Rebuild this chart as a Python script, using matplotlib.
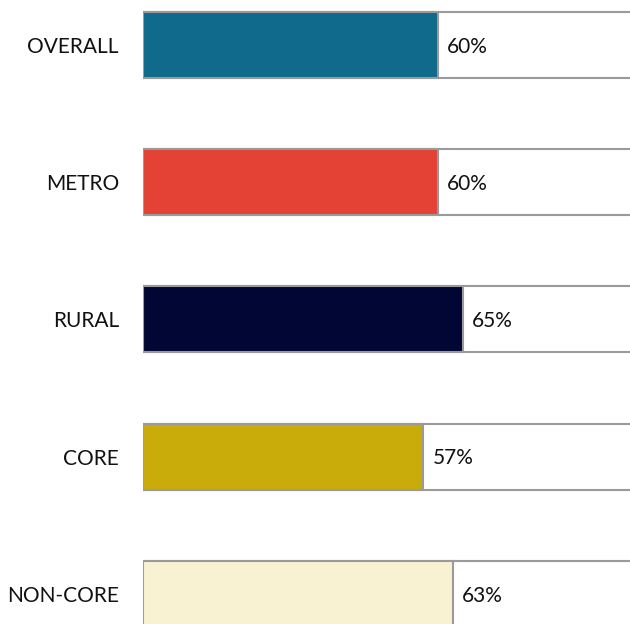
import matplotlib.pyplot as plt

categories = ['OVERALL', 'METRO', 'RURAL', 'CORE', 'NON-CORE']
values = [60, 60, 65, 57, 63]
colors = ['#0f6a8b', '#e34234', '#020635', '#c9ab0a', '#f8f2d2']

plt.rcParams['font.family'] = ['Lato', 'DejaVu Sans']

fig = plt.figure(figsize=(6.3, 6.24), dpi=100)
ax = fig.add_axes([143 / 630, 0, 487 / 630, 1])

ypos = list(range(len(categories)))
edge = '#9a9a9a'

# full-width background bars (100%)
ax.barh(ypos, [100] * len(ypos), height=0.481, color='white',
        edgecolor=edge, linewidth=1.5, zorder=1)
ax.barh(ypos, values, height=0.481, color=colors,
        edgecolor=edge, linewidth=1.5, zorder=2)

for y, v in zip(ypos, values):
    ax.annotate(f'{v}%', (v, y), xytext=(6.5, -1.2), textcoords='offset points',
                va='center', ha='left', fontsize=15, color='#111111')

ax.set_xlim(0, 99.0)
ax.set_ylim(4.219, -0.328)
ax.set_yticks(ypos)
ax.set_yticklabels(categories, fontsize=15, color='#111111')
ax.tick_params(axis='y', length=0, pad=17.3)
ax.set_xticks([])
for s in ax.spines.values():
    s.set_visible(False)

fig.savefig('out.png', dpi=100)
